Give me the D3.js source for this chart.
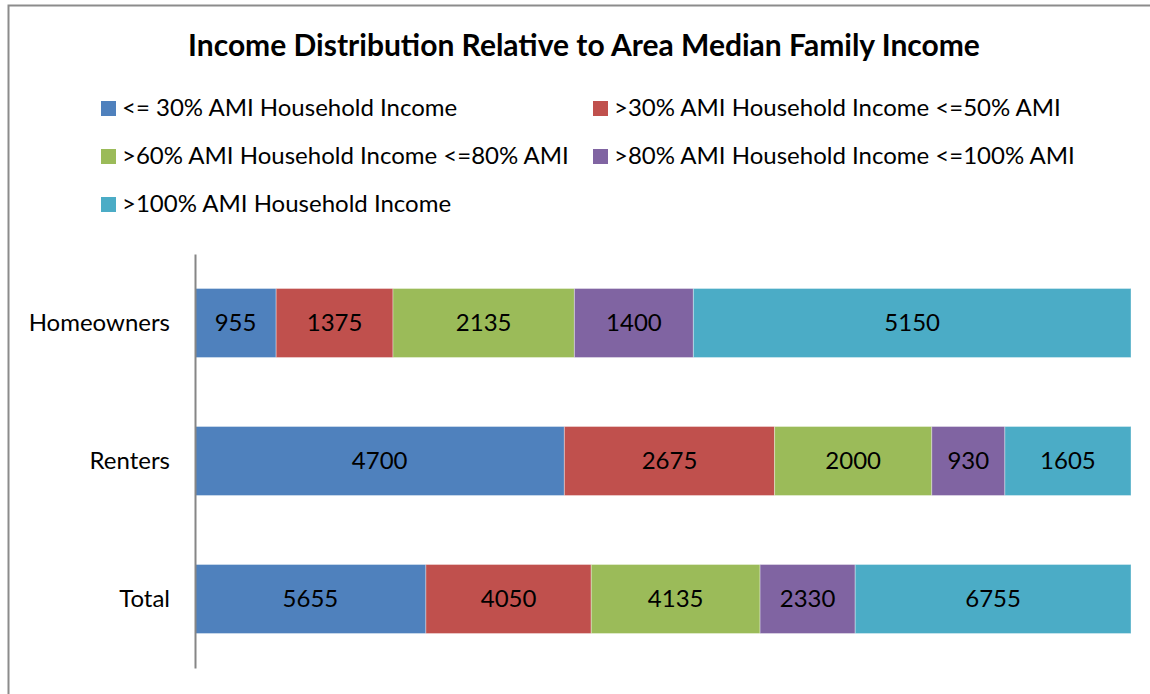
<!DOCTYPE html>
<html>
<head>
<meta charset="utf-8">
<script src="https://cdn.jsdelivr.net/npm/d3@7"></script>
<style>
  body { margin: 0; background: #fff; }
  svg { display: block; font-family: Lato, "Open Sans", sans-serif; }
</style>
</head>
<body>
<div id="chart"></div>
<script>
const categories = ['Homeowners', 'Renters', 'Total'];
const seriesNames = [
  '<= 30% AMI Household Income',
  '>30% AMI Household Income <=50% AMI',
  '>60% AMI Household Income <=80% AMI',
  '>80% AMI Household Income <=100% AMI',
  '>100% AMI Household Income'
];
const le30 = [955, 4700, 5655];
const le50 = [1375, 2675, 4050];
const le80 = [2135, 2000, 4135];
const le100 = [1400, 930, 2330];
const gt100 = [5150, 1605, 6755];
const colors = ['#4F81BD', '#C0504D', '#9BBB59', '#8064A2', '#4BACC6'];

const width = 1150, height = 694;
const margin = { left: 195, right: 19, top: 254, bottom: 26 };
const labelSize = '24px';

const svg = d3.select('#chart').append('svg')
  .attr('width', width)
  .attr('height', height);

// chart frame
svg.append('rect')
  .attr('x', 8.5).attr('y', 5.5)
  .attr('width', 1160).attr('height', 700)
  .attr('fill', 'none')
  .attr('stroke', '#8c8c8c')
  .attr('stroke-width', 2);

svg.append('text')
  .attr('x', 584).attr('y', 56)
  .attr('text-anchor', 'middle')
  .style('font-size', '30px')
  .style('font-weight', 'bold')
  .text('Income Distribution Relative to Area Median Family Income');

// legend
const legendPos = [[101, 108], [593, 108], [101, 156], [593, 156], [101, 204]];
const legend = svg.append('g');
seriesNames.forEach((name, i) => {
  const g = legend.append('g').attr('transform', `translate(${legendPos[i][0]}, ${legendPos[i][1]})`);
  g.append('rect').attr('x', 0).attr('y', -7).attr('width', 15).attr('height', 15).attr('fill', colors[i]);
  g.append('text').attr('x', 21).attr('y', 0).attr('dy', '0.35em')
    .style('font-size', labelSize).text(name);
});

// data rows
const rows = categories.map((c, i) => ({
  category: c,
  s0: le30[i], s1: le50[i], s2: le80[i], s3: le100[i], s4: gt100[i]
}));
const keys = ['s0', 's1', 's2', 's3', 's4'];
const stack = d3.stack().keys(keys).offset(d3.stackOffsetExpand);
const series = stack(rows);

const x = d3.scaleLinear().domain([0, 1]).range([margin.left, width - margin.right]);
const y = d3.scaleBand().domain(categories)
  .range([margin.top, height - margin.bottom])
  .paddingInner(0.5).paddingOuter(0.25);

const layer = svg.selectAll('g.layer')
  .data(series)
  .enter()
  .append('g')
  .attr('class', 'layer')
  .attr('fill', (d, i) => colors[i]);

layer.selectAll('rect')
  .data(d => d)
  .enter()
  .append('rect')
  .attr('x', d => x(d[0]))
  .attr('y', d => y(d.data.category))
  .attr('width', d => x(d[1]) - x(d[0]))
  .attr('height', y.bandwidth())
  .attr('stroke', '#fff')
  .attr('stroke-opacity', 0.35)
  .attr('stroke-width', 1);

layer.selectAll('text')
  .data((d, i) => d.map(v => ({ v, key: keys[i] })))
  .enter()
  .append('text')
  .attr('x', d => (x(d.v[0]) + x(d.v[1])) / 2)
  .attr('y', d => y(d.v.data.category) + y.bandwidth() / 2)
  .attr('dy', '0.35em')
  .attr('text-anchor', 'middle')
  .attr('fill', '#000')
  .style('font-size', labelSize)
  .text(d => d.v.data[d.key]);

// axis
const yAxis = d3.axisLeft(y).tickSize(0).tickPadding(25);
const axisG = svg.append('g')
  .attr('transform', `translate(${margin.left}, 0)`)
  .call(yAxis);
axisG.select('.domain').attr('stroke', '#868686').attr('stroke-width', 2);
axisG.selectAll('text').style('font-size', labelSize).style('font-family', 'Lato, "Open Sans", sans-serif').attr('fill', '#000');
</script>
</body>
</html>
